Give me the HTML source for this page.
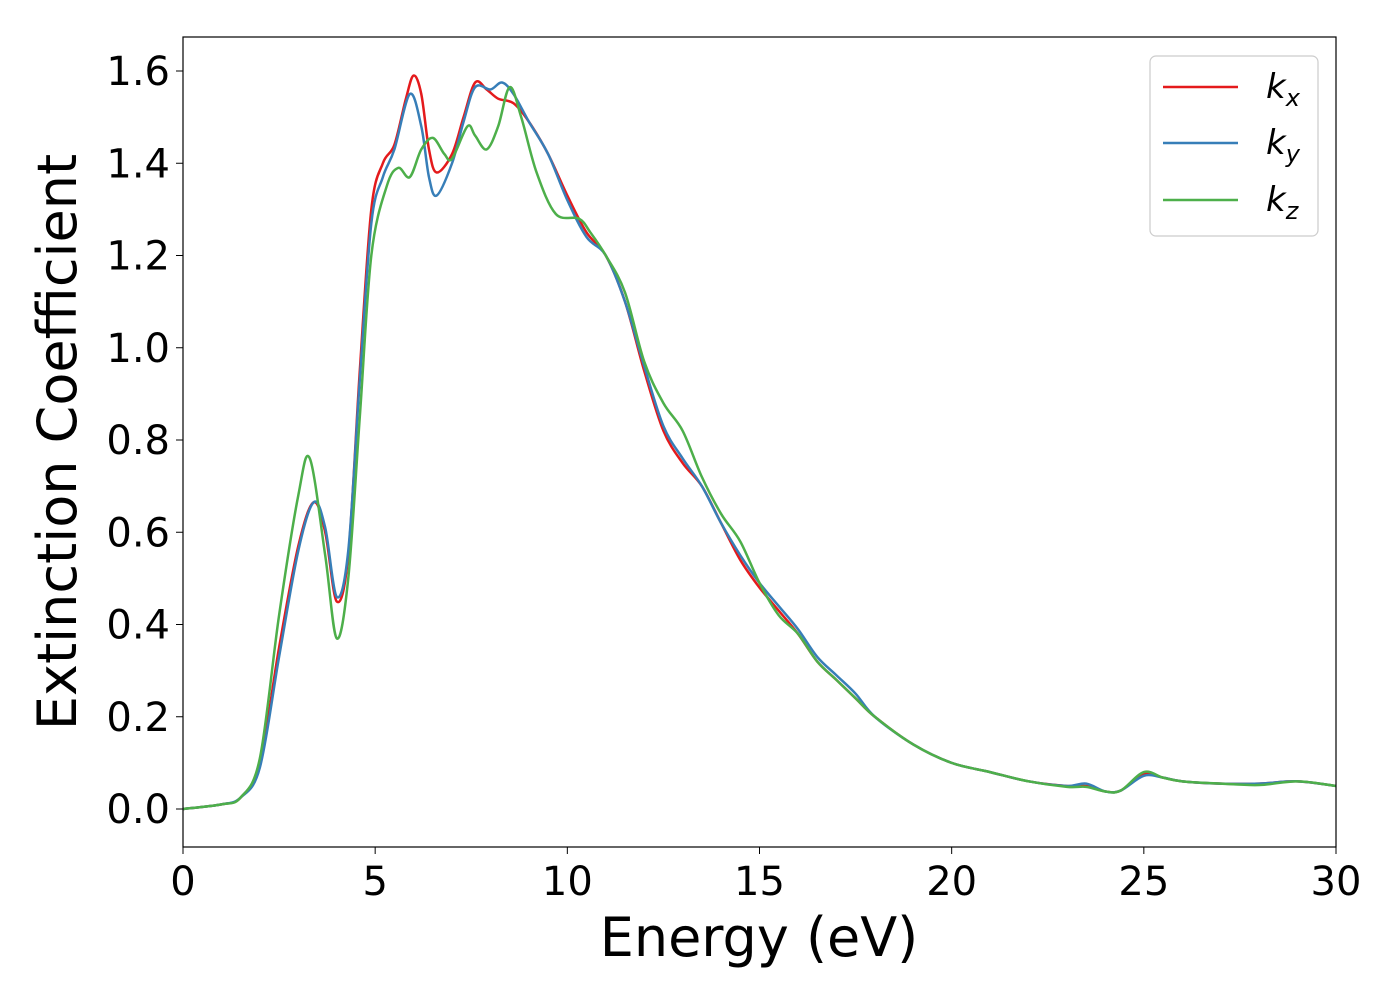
<!DOCTYPE html>
<html><head><meta charset="utf-8"><style>
body{margin:0;background:#fff;}
svg{display:block;font-family:"DejaVu Sans","Liberation Sans",sans-serif;}
</style></head><body>
<svg id="chart" width="1400" height="1000">
<g id="axes"></g>
<g id="series"></g>
<rect x="183" y="37" width="1153" height="810" fill="none" stroke="#000" stroke-width="1.2"/>
<text x="759" y="956" font-size="54" text-anchor="middle">Energy (eV)</text>
<text transform="translate(76,442) rotate(-90)" font-size="54" text-anchor="middle">Extinction Coefficient</text>
<g>
<rect x="1150" y="56" width="168" height="180" rx="6" fill="#fff" stroke="#ccc" stroke-width="1.2"/>
<line x1="1163" y1="87" x2="1238" y2="87" stroke="#e41a1c" stroke-width="2.5"/>
<text x="1266" y="98" font-size="34" font-style="italic">k<tspan font-size="24" dy="8">x</tspan></text>
<line x1="1163" y1="143" x2="1238" y2="143" stroke="#377eb8" stroke-width="2.5"/>
<text x="1266" y="154" font-size="34" font-style="italic">k<tspan font-size="24" dy="8">y</tspan></text>
<line x1="1163" y1="200" x2="1238" y2="200" stroke="#4daf4a" stroke-width="2.5"/>
<text x="1266" y="211" font-size="34" font-style="italic">k<tspan font-size="24" dy="8">z</tspan></text>
</g>
</svg>
<script>
const xTicks=[0,5,10,15,20,25,30];
const yTicks=[0.0,0.2,0.4,0.6,0.8,1.0,1.2,1.4,1.6];
const kxE=[0,1,1.5,2,2.5,3,3.4,3.7,4.0,4.3,4.6,4.9,5.2,5.5,5.8,6.0,6.2,6.4,6.6,7.0,7.3,7.6,7.9,8.2,8.6,9.0,9.5,10,10.5,11,11.5,12,12.5,13,13.5,14,14.5,15,15.5,16,16.5,17,17.5,18,19,20,21,22,23,23.5,24,24.4,25,25.5,26,27,28,29,30];
const kxV=[0,0.01,0.025,0.1,0.35,0.57,0.665,0.6,0.45,0.55,0.95,1.3,1.4,1.44,1.54,1.59,1.55,1.43,1.38,1.42,1.5,1.575,1.56,1.54,1.53,1.49,1.42,1.33,1.25,1.2,1.1,0.95,0.82,0.75,0.7,0.62,0.54,0.48,0.43,0.38,0.32,0.28,0.24,0.2,0.14,0.1,0.08,0.06,0.05,0.05,0.038,0.04,0.075,0.068,0.06,0.055,0.055,0.06,0.05];
const kyE=[0,1,1.5,2,2.5,3,3.4,3.7,4.0,4.3,4.6,4.9,5.2,5.5,5.9,6.2,6.4,6.6,7.0,7.3,7.6,8.0,8.3,8.6,9.0,9.5,10,10.5,11,11.5,12,12.5,13,13.5,14,14.5,15,15.5,16,16.5,17,17.5,18,19,20,21,22,23,23.5,24,24.4,25,25.5,26,27,28,29,30];
const kyV=[0,0.01,0.025,0.09,0.33,0.56,0.665,0.61,0.46,0.56,0.93,1.27,1.37,1.43,1.55,1.48,1.37,1.33,1.4,1.49,1.565,1.56,1.575,1.55,1.49,1.42,1.32,1.24,1.2,1.1,0.96,0.83,0.76,0.7,0.62,0.55,0.49,0.44,0.39,0.33,0.29,0.25,0.2,0.14,0.1,0.08,0.06,0.05,0.055,0.038,0.04,0.072,0.068,0.06,0.055,0.055,0.06,0.05];
const kzE=[0,1,1.5,2,2.5,3,3.3,3.7,4.0,4.3,4.6,4.9,5.3,5.6,5.9,6.2,6.5,6.8,7.0,7.4,7.6,7.9,8.2,8.5,8.8,9.2,9.7,10.3,10.6,11,11.5,12,12.5,13,13.5,14,14.5,15,15.5,16,16.5,17,17.5,18,19,20,21,22,23,23.5,24,24.4,25,25.5,26,27,28,29,30];
const kzV=[0,0.01,0.025,0.11,0.42,0.68,0.76,0.55,0.37,0.5,0.85,1.2,1.35,1.39,1.37,1.43,1.455,1.42,1.41,1.48,1.46,1.43,1.48,1.565,1.5,1.38,1.29,1.28,1.25,1.2,1.12,0.97,0.88,0.82,0.72,0.64,0.58,0.49,0.42,0.38,0.32,0.28,0.24,0.2,0.14,0.1,0.08,0.06,0.048,0.048,0.038,0.04,0.08,0.068,0.06,0.055,0.052,0.06,0.05];
const X=e=>183+e*(1336-183)/30;
const Y=v=>809-v*461.25;
const NS="http://www.w3.org/2000/svg";
const axes=document.getElementById('axes');
xTicks.forEach(t=>{
 const l=document.createElementNS(NS,'line');
 l.setAttribute('x1',X(t));l.setAttribute('x2',X(t));l.setAttribute('y1',847);l.setAttribute('y2',854);l.setAttribute('stroke','#000');
 
 
 axes.appendChild(l);
 const tx=document.createElementNS(NS,'text');
 tx.setAttribute('x',X(t));tx.setAttribute('y',895);tx.setAttribute('font-size','40');tx.setAttribute('text-anchor','middle');tx.textContent=t;
 
 
 axes.appendChild(tx);
});
yTicks.forEach(t=>{
 const l=document.createElementNS(NS,'line');
 l.setAttribute('x1',176);l.setAttribute('x2',183);l.setAttribute('y1',Y(t));l.setAttribute('y2',Y(t));l.setAttribute('stroke','#000');
 
 
 axes.appendChild(l);
 const tx=document.createElementNS(NS,'text');
 tx.setAttribute('x',170);tx.setAttribute('y',Y(t)+14);tx.setAttribute('font-size','40');tx.setAttribute('text-anchor','end');tx.textContent=t.toFixed(1);
 
 
 axes.appendChild(tx);
});
function pathFor(E,V){
 const p=E.map((e,i)=>[X(e),Y(V[i])]);
 let d='M'+p[0][0]+','+p[0][1];
 for(let i=0;i<p.length-1;i++){
  const p0=p[Math.max(0,i-1)],p1=p[i],p2=p[i+1],p3=p[Math.min(p.length-1,i+2)];
  const c1=[p1[0]+(p2[0]-p0[0])/6,p1[1]+(p2[1]-p0[1])/6];
  const c2=[p2[0]-(p3[0]-p1[0])/6,p2[1]-(p3[1]-p1[1])/6];
  d+=' C'+c1.join(',')+' '+c2.join(',')+' '+p2.join(',');
 }
 return d;
}
const sg=document.getElementById('series');
[[kxE,kxV,'#e41a1c','line-kx'],[kyE,kyV,'#377eb8','line-ky'],[kzE,kzV,'#4daf4a','line-kz']].forEach(s=>{
 const pa=document.createElementNS(NS,'path');
 pa.setAttribute('d',pathFor(s[0],s[1]));pa.setAttribute('fill','none');pa.setAttribute('stroke',s[2]);pa.setAttribute('stroke-width','2.5');
 
 
 sg.appendChild(pa);
});
</script>
</body></html>
